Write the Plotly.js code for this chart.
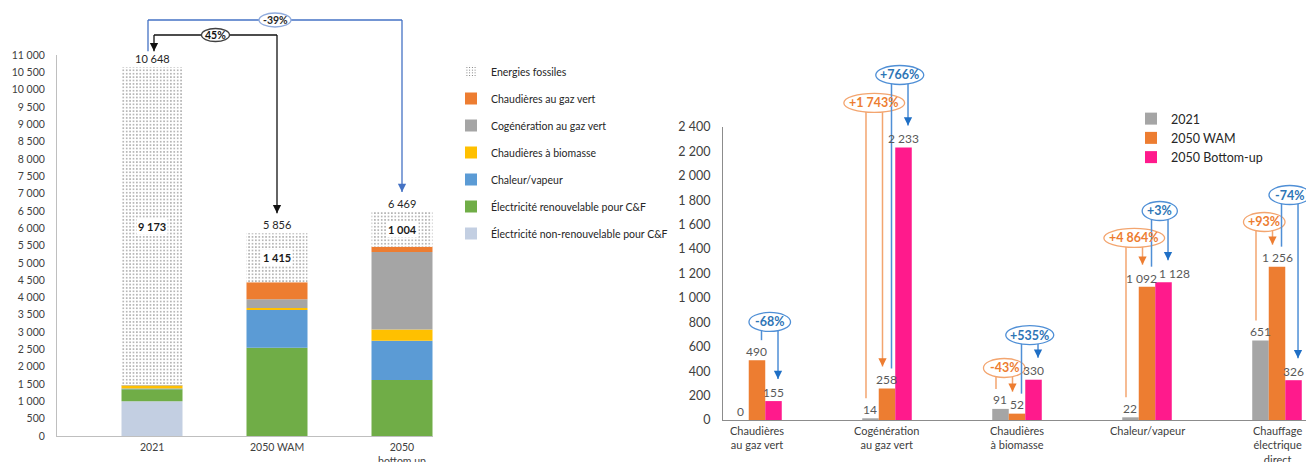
<!DOCTYPE html>
<html>
<head>
<meta charset="utf-8">
<script src="https://cdn.plot.ly/plotly-3.0.1.min.js"></script>
<style>
  html, body { margin: 0; padding: 0; background: #ffffff; }
  #chart { width: 1306px; height: 462px; }
</style>
</head>
<body>
<div id="chart"></div>
<script>
// ---- Consommation de chaleur : mix par scénario (GWh) ----
const scenarios = ['2021', '2050 WAM', '2050<br>bottom up'];
const elecNonRenouv = [1000, 0, 0];
const elecRenouv = [348, 2549, 1619];
const chaleurVapeur = [22, 1092, 1128];
const chaudBiomasse = [91, 52, 330];
const cogenGazVert = [14, 258, 2233];
const chaudGazVert = [0, 490, 155];
const fossiles = [9173, 1415, 1004];

// ---- Comparaison par technologie (GWh) ----
const technologies = ['Chaudières<br>au gaz vert', 'Cogénération<br>au gaz vert', 'Chaudières<br>à biomasse', 'Chaleur/vapeur', 'Chauffage<br>électrique<br>direct'];
const val2021 = [0, 14, 91, 22, 651];
const valWAM = [490, 258, 52, 1092, 1256];
const valBottomUp = [155, 2233, 330, 1128, 326];

// ---- page geometry (pixels) ----
const W = 1306, H = 462;
const FONT = 'Lato, "Open Sans", "DejaVu Sans", sans-serif';
const LEFT = { x0: 57, x1: 433, r0: -0.76, r1: 2.248, yb: 436, yt: 55, ymax: 11000 };
const RIGHT = { x0: 723, x1: 1306, r0: -0.2615, r1: 4.223, yb: 420, yt: 127, ymax: 2400 };
const LEFT_BAR_W = 0.488;
const RIGHT_BAR_W = 0.127;

const xpx = (ax, x) => ax.x0 + (x - ax.r0) / (ax.r1 - ax.r0) * (ax.x1 - ax.x0);
const ypx = (ax, v) => ax.yb - v / ax.ymax * (ax.yb - ax.yt);
const PX = p => p / W;
const PY = p => 1 - p / H;

const fmt = n => String(Math.round(n)).replace(/\B(?=(\d{3})+(?!\d))/g, ' ');
const pctText = (a, b, signed) => {
  const p = Math.round((b / a - 1) * 100);
  const s = p > 0 ? '+' : (p < 0 ? '-' : '');
  return (signed ? s : '') + fmt(Math.abs(p)) + '%';
};

const shapes = [];
const annotations = [];

// ---- left stacked bars ----
const stackSeries = [
  { name: 'Électricité non-renouvelable pour C&F', y: elecNonRenouv, color: '#C3CFE2' },
  { name: 'Électricité renouvelable pour C&F', y: elecRenouv, color: '#70AD47' },
  { name: 'Chaleur/vapeur', y: chaleurVapeur, color: '#5B9BD5' },
  { name: 'Chaudières à biomasse', y: chaudBiomasse, color: '#FFC000' },
  { name: 'Cogénération au gaz vert', y: cogenGazVert, color: '#A5A5A5' },
  { name: 'Chaudières au gaz vert', y: chaudGazVert, color: '#ED7D31' },
  { name: 'Energies fossiles', y: fossiles, color: '#FFFFFF', pattern: true }
];

const traces = [];
const cum = scenarios.map(() => 0);
stackSeries.forEach((s, k) => {
  const base = cum.slice();
  s.y.forEach((v, i) => { cum[i] += v; });
  const t = {
    type: 'bar', name: s.name, x: scenarios, y: s.y, base: base,
    width: LEFT_BAR_W, xaxis: 'x', yaxis: 'y',
    legend: 'legend', legendgroup: 'g' + k, legendrank: 100 - k,
    marker: { color: s.color, line: { width: 0 } },
    hoverinfo: 'skip'
  };
  if (s.pattern) {
    t.marker.pattern = { shape: '.', fgcolor: '#555555', bgcolor: '#ffffff', size: 3.4, solidity: 0.12 };
    // value written in the middle of the fossil segment
    s.y.forEach((v, i) => {
      annotations.push({
        xref: 'paper', yref: 'paper', x: PX(xpx(LEFT, i)), y: PY(ypx(LEFT, base[i] + v / 2)),
        xanchor: 'center', yanchor: 'middle', showarrow: false, text: fmt(v),
        bgcolor: '#ffffff', borderpad: 1,
        font: { family: FONT, size: 11, color: '#1a1a1a', weight: 'bold' }
      });
    });
  }
  traces.push(t);
});
const totals = cum.slice();

// ---- right grouped bars ----
const groupSeries = [
  { name: '2021', y: val2021, color: '#A5A5A5' },
  { name: '2050 WAM', y: valWAM, color: '#ED7D31' },
  { name: '2050 Bottom-up', y: valBottomUp, color: '#FF1A8C' }
];
const groupOffset = j => (j - 1) * RIGHT_BAR_W;
// nudges (px) for value labels that would collide: [series, category, dx, dy]
const labelNudges = [[1, 3, -6, 1], [2, 3, 11, 0]];
groupSeries.forEach((s, j) => {
  traces.push({
    type: 'bar', name: s.name, x: technologies, y: s.y,
    width: RIGHT_BAR_W, offset: groupOffset(j) - RIGHT_BAR_W / 2,
    xaxis: 'x2', yaxis: 'y2', legend: 'legend2',
    marker: { color: s.color, line: { width: 0 } },
    hoverinfo: 'skip'
  });
  s.y.forEach((v, i) => {
    const n = labelNudges.find(d => d[0] === j && d[1] === i) || [j, i, 0, 0];
    annotations.push({
      xref: 'paper', yref: 'paper',
      x: PX(xpx(RIGHT, i + groupOffset(j)) + n[2]), y: PY(ypx(RIGHT, v) - 9 + n[3]),
      xanchor: 'center', yanchor: 'middle', showarrow: false, text: fmt(v),
      font: { family: FONT, size: 12, color: '#595959' }
    });
  });
});

// totals above the stacked bars
totals.forEach((t, i) => {
  annotations.push({
    xref: 'paper', yref: 'paper', x: PX(xpx(LEFT, i)), y: PY(ypx(LEFT, t)),
    xanchor: 'center', yanchor: 'bottom', showarrow: false, text: fmt(t),
    font: { family: FONT, size: 11, color: '#262626' }
  });
});

// category labels under each axis
function categoryLabels(ax, cats, yTop, size) {
  cats.forEach((c, i) => {
    annotations.push({
      xref: 'paper', yref: 'paper', x: PX(xpx(ax, i)), y: PY(yTop),
      xanchor: 'center', yanchor: 'top', align: 'center', showarrow: false, text: c,
      borderpad: 0, font: { family: FONT, size: size, color: '#404040' }
    });
  });
}
categoryLabels(LEFT, scenarios, 439.5, 10.5);
categoryLabels(RIGHT, technologies, 423, 11);

function vline(x, y0, y1, color, width) {
  shapes.push({ type: 'line', xref: 'paper', yref: 'paper',
    x0: PX(x), x1: PX(x), y0: PY(y0), y1: PY(y1),
    line: { color: color, width: width } });
}
function hline(x0, x1, y, color, width) {
  shapes.push({ type: 'line', xref: 'paper', yref: 'paper',
    x0: PX(x0), x1: PX(x1), y0: PY(y), y1: PY(y),
    line: { color: color, width: width } });
}
function arrowHead(x, yTip, color) {
  annotations.push({ xref: 'paper', yref: 'paper', x: PX(x), y: PY(yTip),
    ax: 0, ay: -7, text: '', showarrow: true, arrowhead: 2, arrowsize: 1.1,
    arrowwidth: 1.5, arrowcolor: color, standoff: 0, startstandoff: 0 });
}
function bubble(cx, cy, rx, ry, border, text, textColor, size) {
  shapes.push({ type: 'circle', xref: 'paper', yref: 'paper',
    x0: PX(cx - rx), x1: PX(cx + rx), y0: PY(cy + ry), y1: PY(cy - ry),
    fillcolor: '#ffffff', line: { color: border, width: 1.3 } });
  annotations.push({ xref: 'paper', yref: 'paper', x: PX(cx), y: PY(cy),
    xanchor: 'center', yanchor: 'middle', showarrow: false, text: text,
    font: { family: FONT, size: size, color: textColor, weight: 'bold' } });
}

// ---- left chart: evolution brackets 2021 -> 2050 ----
const leftLinks = [
  { from: 0, to: 2, level: 12010, shiftFrom: -4, shiftTo: 0, arrowFrom: false, signed: true,
    line: '#4472C4', border: '#8FAADC', text: '#262626', rx: 16, ry: 7 },
  { from: 0, to: 1, level: 11577, shiftFrom: 2, shiftTo: 0, arrowFrom: true, signed: false,
    line: '#111111', border: '#404040', text: '#111111', rx: 14, ry: 6.5 }
];
leftLinks.forEach(l => {
  const xa = xpx(LEFT, l.from) + l.shiftFrom;
  const xb = xpx(LEFT, l.to) + l.shiftTo;
  const yc = ypx(LEFT, l.level);
  const yA = ypx(LEFT, totals[l.from]) - 16;
  const yB = ypx(LEFT, totals[l.to]) - 20;
  hline(xa, xb, yc, l.line, 1.3);
  vline(xa, yc, yA, l.line, 1.3);
  vline(xb, yc, yB, l.line, 1.3);
  if (l.arrowFrom) arrowHead(xa, yA, l.line);
  arrowHead(xb, yB, l.line);
  bubble((xa + xb) / 2, yc, l.rx, l.ry, l.border,
    pctText(totals[l.from], totals[l.to], l.signed), l.text, 10.5);
});

// ---- right chart: variation bubbles between scenarios ----
const seriesValues = [val2021, valWAM, valBottomUp];
const rightLinks = [
  { cat: 0, from: 1, to: 2, level: 803 },
  { cat: 1, from: 0, to: 1, level: 2597 },
  { cat: 1, from: 1, to: 2, level: 2826 },
  { cat: 2, from: 0, to: 1, level: 426 },
  { cat: 2, from: 1, to: 2, level: 696 },
  { cat: 3, from: 0, to: 1, level: 1491 },
  { cat: 3, from: 1, to: 2, level: 1712 },
  { cat: 4, from: 0, to: 1, level: 1622 },
  { cat: 4, from: 1, to: 2, level: 1843 }
];
const linkStyle = {
  1: { shift: -4.5, line: '#F3A56F', border: '#F3A56F', head: '#ED7D31', text: '#ED7D31' },
  2: { shift: 4.5, line: '#4F8FD6', border: '#4F8FD6', head: '#1F6FC5', text: '#2E75B6' }
};
rightLinks.forEach(l => {
  const st = linkStyle[l.to];
  const a = seriesValues[l.from][l.cat];
  const b = seriesValues[l.to][l.cat];
  const xa = xpx(RIGHT, l.cat + groupOffset(l.from)) + st.shift;
  const xb = xpx(RIGHT, l.cat + groupOffset(l.to)) + st.shift;
  const yc = ypx(RIGHT, l.level);
  const yA = ypx(RIGHT, a) - 20;
  const yB = ypx(RIGHT, b) - 22;
  vline(xa, yc, yA, st.line, 1.5);
  vline(xb, yc, yB, st.line, 1.5);
  arrowHead(xb, yB, st.head);
  const txt = pctText(a, b, true);
  bubble((xa + xb) / 2, yc, (6.4 * txt.length + 16) / 2, 9.5, st.border, txt, st.text, 12.5);
});

const layout = {
  width: W, height: H,
  margin: { l: 0, r: 0, t: 0, b: 0, pad: 0 },
  paper_bgcolor: '#ffffff', plot_bgcolor: '#ffffff',
  barmode: 'overlay',
  separators: ', ',
  font: { family: FONT, color: '#404040' },
  hovermode: false,
  xaxis: {
    domain: [LEFT.x0 / W, LEFT.x1 / W], range: [LEFT.r0, LEFT.r1], type: 'category',
    anchor: 'y', showline: true, linecolor: '#BFBFBF', linewidth: 1, ticks: '',
    showticklabels: false, showgrid: false, zeroline: false, fixedrange: true
  },
  yaxis: {
    domain: [1 - LEFT.yb / H, 1 - LEFT.yt / H], range: [0, LEFT.ymax], anchor: 'x',
    dtick: 500, tickformat: ',d', showline: true, linecolor: '#BFBFBF', linewidth: 1,
    ticks: '', ticklabelstandoff: 9, showgrid: false, zeroline: false, fixedrange: true,
    tickfont: { family: FONT, size: 10.5, color: '#404040' }
  },
  xaxis2: {
    domain: [RIGHT.x0 / W, RIGHT.x1 / W], range: [RIGHT.r0, RIGHT.r1], type: 'category',
    anchor: 'y2', showline: true, linecolor: '#8C8C8C', linewidth: 1, ticks: '',
    showticklabels: false, showgrid: false, zeroline: false, fixedrange: true
  },
  yaxis2: {
    domain: [1 - RIGHT.yb / H, 1 - RIGHT.yt / H], range: [0, RIGHT.ymax], anchor: 'x2',
    dtick: 200, tickformat: ',d', showline: true, linecolor: '#8C8C8C', linewidth: 1,
    ticks: '', ticklabelstandoff: 9, showgrid: false, zeroline: false, fixedrange: true,
    tickfont: { family: FONT, size: 12.5, color: '#404040' }
  },
  legend: {
    x: PX(451), y: PY(57), xanchor: 'left', yanchor: 'top',
    traceorder: 'grouped', tracegroupgap: 8,
    bgcolor: 'rgba(0,0,0,0)', font: { family: FONT, size: 10.5, color: '#262626' }
  },
  legend2: {
    x: PX(1131), y: PY(104), xanchor: 'left', yanchor: 'top', traceorder: 'normal',
    bgcolor: 'rgba(0,0,0,0)', font: { family: FONT, size: 12.5, color: '#262626' }
  },
  shapes: shapes,
  annotations: annotations
};

Plotly.newPlot('chart', traces, layout, { staticPlot: true, displayModeBar: false });
</script>
</body>
</html>
